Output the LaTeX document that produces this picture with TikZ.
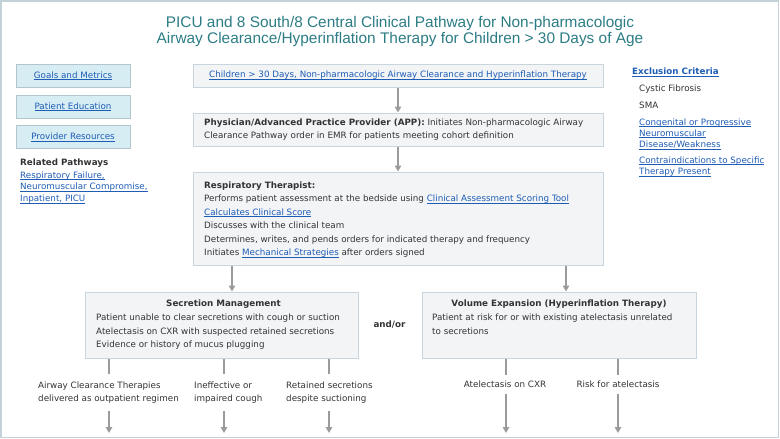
\documentclass[tikz,border=0pt]{standalone}
\usepackage{fontspec}
\setmainfont{DejaVu Sans}
\newfontfamily\titlefont{Liberation Sans}
\usetikzlibrary{arrows.meta}
\definecolor{titlec}{RGB}{44,124,133}
\definecolor{linkc}{RGB}{30,92,182}
\definecolor{textc}{RGB}{51,51,51}
\definecolor{boxfill}{RGB}{242,244,246}
\definecolor{boxdraw}{RGB}{200,213,220}
\definecolor{navfill}{RGB}{215,237,244}
\definecolor{navdraw}{RGB}{180,198,205}
\definecolor{arrc}{RGB}{155,155,155}
\definecolor{framec}{RGB}{195,209,216}
\newcommand{\lnk}[1]{\textcolor{linkc}{\setbox0\hbox{#1}\rlap{\rule[-1.6pt]{\wd0}{0.6pt}}\box0}}
\newcommand{\fsl}[1]{\fontsize{8.75}{#1}\selectfont}
\newcommand{\fs}{\fsl{13.5}}
\tikzset{
  box/.style={draw=boxdraw, fill=boxfill, line width=1pt, inner sep=0pt},
  navbox/.style={draw=navdraw, fill=navfill, line width=1pt, minimum width=114pt, minimum height=23pt, inner sep=0pt},
  txt/.style={inner sep=0pt, align=left, anchor=north west},
  lbl/.style={inner xsep=0pt, inner ysep=7.3pt, align=left, anchor=north west},
  conn/.style={draw=arrc, line width=1.5pt},
  arr/.style={draw=arrc, line width=1.5pt, -{Triangle[width=6.5pt,length=6pt]}, fill=arrc}
}
\begin{document}
\begin{tikzpicture}[x=1pt,y=-1pt, font=\fs, every node/.append style={text=textc}]
\useasboundingbox (0,0) rectangle (780,439);
\draw[framec, line width=1.5pt] (0.75,0.75) rectangle (778.25,437.5);

% title
\node[align=center, inner sep=0pt, text=titlec, font={\titlefont\fontsize{15.4}{15.5}\selectfont}] (title) at (400,31.5)
  {PICU and 8 South/8 Central Clinical Pathway for Non-pharmacologic\\Airway Clearance/Hyperinflation Therapy for Children > 30 Days of Age};

% left navigation
\node[navbox] (goals) at (73,75.5) {\lnk{Goals and Metrics}};
\node[navbox] (educ) at (73,106.5) {\lnk{Patient Education}};
\node[navbox] (prov) at (73,137) {\lnk{Provider Resources}};
\node[inner sep=0pt, anchor=base west, font={\fs\bfseries}] (relp) at (20,165) {Related Pathways};
\node[txt, font={\fsl{11.8}}] (rell) at (20,171.3)
  {\lnk{Respiratory Failure,}\\\lnk{Neuromuscular Compromise,}\\\lnk{Inpatient, PICU}};

% exclusion criteria
\node[inner sep=0pt, anchor=base west] (excl) at (632,74.5) {\lnk{\bfseries Exclusion Criteria}};
\node[inner sep=0pt, anchor=base west] (cf) at (639,91.5) {Cystic Fibrosis};
\node[inner sep=0pt, anchor=base west] (sma) at (639,108.3) {SMA};
\node[txt, font={\fsl{11.3}}] (cong) at (639,118.3)
  {\lnk{Congenital or Progressive}\\\lnk{Neuromuscular}\\\lnk{Disease/Weakness}};
\node[txt, font={\fsl{11.8}}] (contra) at (639,156.3)
  {\lnk{Contraindications to Specific}\\\lnk{Therapy Present}};

% main boxes
\node[box, minimum width=410pt, minimum height=23pt] (start) at (398,75.5)
  {\lnk{Children > 30 Days, Non-pharmacologic Airway Clearance and Hyperinflation Therapy}};
\node[box, minimum width=410pt, minimum height=33pt] (phys) at (398,129.5) {};
\node[txt, font={\fsl{12.4}}] (physt) at (204,118.8)
  {\textbf{Physician/Advanced Practice Provider (APP):} Initiates Non-pharmacologic Airway\\Clearance Pathway order in EMR for patients meeting cohort definition};
\node[box, minimum width=410pt, minimum height=93pt] (rt) at (398,218.5) {};
\node[txt] (rtt) at (204,181.3)
  {\textbf{Respiratory Therapist:}\\
   Performs patient assessment at the bedside using \lnk{Clinical Assessment Scoring Tool}\\
   \lnk{Calculates Clinical Score}\\
   Discusses with the clinical team\\
   Determines, writes, and pends orders for indicated therapy and frequency\\
   Initiates \lnk{Mechanical Strategies} after orders signed};

\node[box, minimum width=273pt, minimum height=66pt] (sec) at (221.5,325) {};
\node[inner sep=0pt, anchor=base, font={\fs\bfseries}] (sect) at (223.5,306.7) {Secretion Management};
\node[txt] (secl) at (96,313.8)
  {Patient unable to clear secretions with cough or suction\\
   Atelectasis on CXR with suspected retained secretions\\
   Evidence or history of mucus plugging};

\node[inner sep=0pt, anchor=base, font={\fs\bfseries}] (andor) at (389.5,327) {and/or};

\node[box, minimum width=274pt, minimum height=66pt] (vol) at (559,325) {};
\node[inner sep=0pt, anchor=base, font={\fs\bfseries}] (volt) at (559,306.7) {Volume Expansion (Hyperinflation Therapy)};
\node[txt] (voll) at (432,313.8)
  {Patient at risk for or with existing atelectasis unrelated\\to secretions};

% labels under boxes
\node[lbl] (l1) at (38,374) {Airway Clearance Therapies\\delivered as outpatient regimen};
\node[lbl] (l2) at (194,374) {Ineffective or\\impaired cough};
\node[lbl] (l3) at (286,374) {Retained secretions\\despite suctioning};
\node[lbl, anchor=north, inner ysep=5.8pt] (l4) at (505,375) {Atelectasis on CXR};
\node[lbl, anchor=north, inner ysep=5.8pt] (l5) at (618,375) {Risk for atelectasis};

% coordinates
\coordinate (cs) at (232,0);
\coordinate (cv) at (566,0);
\coordinate (x1) at (109,0);
\coordinate (x2) at (224,0);
\coordinate (x3) at (329,0);
\coordinate (x4) at (506,0);
\coordinate (x5) at (618,0);
\coordinate (bot) at (0,433);

% connectors
\draw[arr] (start.south) -- (phys.north);
\draw[arr] (phys.south) -- (rt.north);
\draw[arr] (rt.south -| cs) -- (sec.north -| cs);
\draw[arr] (rt.south -| cv) -- (vol.north -| cv);

\draw[conn] (sec.south -| x1) -- (l1.north -| x1);
\draw[conn] (sec.south -| x2) -- (l2.north -| x2);
\draw[conn] (sec.south -| x3) -- (l3.north -| x3);
\draw[conn] (vol.south -| x4) -- (l4.north -| x4);
\draw[conn] (vol.south -| x5) -- (l5.north -| x5);

\draw[arr] (l1.south -| x1) -- (bot -| x1);
\draw[arr] (l2.south -| x2) -- (bot -| x2);
\draw[arr] (l3.south -| x3) -- (bot -| x3);
\draw[arr] (l4.south -| x4) -- (bot -| x4);
\draw[arr] (l5.south -| x5) -- (bot -| x5);
\end{tikzpicture}
\end{document}
